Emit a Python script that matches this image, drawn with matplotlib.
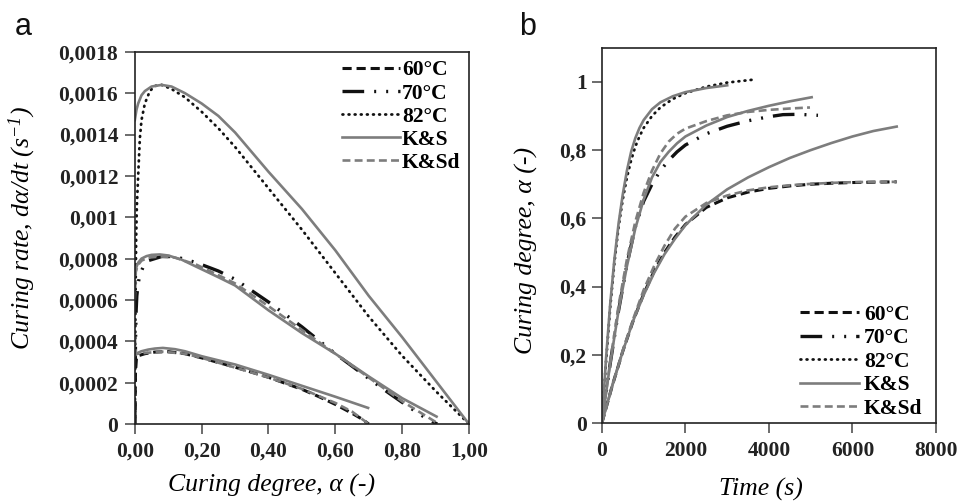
import matplotlib
matplotlib.use("Agg")
import matplotlib.pyplot as plt
from matplotlib.ticker import FixedLocator, FixedFormatter

# ---------------- data: panel a (curing rate vs curing degree) ----------------
a60_exp_x = [0, 0.002, 0.005, 0.01, 0.03, 0.06, 0.10, 0.15, 0.2, 0.3, 0.4, 0.5, 0.55, 0.6, 0.65, 0.68, 0.70]
a60_exp_y = [0, 0.00025, 0.00032, 0.00033, 0.00034, 0.000348, 0.00035, 0.00034, 0.00032, 0.000275, 0.000226, 0.000168, 0.000133, 0.000095, 0.000052, 0.000024, 0.0]
a60_ks_x = [0, 0.005, 0.01, 0.02, 0.04, 0.06, 0.084, 0.12, 0.15, 0.2, 0.3, 0.4, 0.5, 0.6, 0.698]
a60_ks_y = [0.00033, 0.000338, 0.000345, 0.000352, 0.00036, 0.000365, 0.000368, 0.000362, 0.000352, 0.000328, 0.000288, 0.000238, 0.000185, 0.000132, 0.000078]
a60_ksd_x = [0, 0.003, 0.01, 0.04, 0.08, 0.15, 0.2, 0.3, 0.4, 0.5, 0.6, 0.65, 0.70]
a60_ksd_y = [0.00042, 0.00034, 0.00034, 0.000345, 0.00035, 0.00034, 0.00032, 0.000273, 0.000225, 0.00017, 0.000102, 0.00006, 0.0]

a70_exp_x = [0, 0.002, 0.004, 0.006, 0.01, 0.015, 0.025, 0.04, 0.06, 0.08, 0.12, 0.185, 0.25, 0.3, 0.4, 0.5, 0.6, 0.7, 0.76, 0.8, 0.85, 0.88, 0.905]
a70_exp_y = [0, 0.0004, 0.00055, 0.00062, 0.00068, 0.00072, 0.00076, 0.00079, 0.0008, 0.00081, 0.00081, 0.00078, 0.00074, 0.0007, 0.00059, 0.00047, 0.00034, 0.00022, 0.00015, 0.000105, 0.00005, 0.00002, 0.0]
a70_ks_x = [0, 0.005, 0.01, 0.02, 0.035, 0.05, 0.075, 0.1, 0.14, 0.185, 0.25, 0.3, 0.4, 0.5, 0.6, 0.7, 0.8, 0.903]
a70_ks_y = [0.00072, 0.00076, 0.00078, 0.0008, 0.000812, 0.000818, 0.00082, 0.000815, 0.000795, 0.00076, 0.00071, 0.00067, 0.00055, 0.00044, 0.00034, 0.00023, 0.000125, 0.000036]
a70_ksd_x = [0, 0.003, 0.01, 0.02, 0.04, 0.08, 0.12, 0.185, 0.25, 0.3, 0.4, 0.5, 0.6, 0.7, 0.8, 0.85, 0.91]
a70_ksd_y = [0.0006, 0.00074, 0.00077, 0.00079, 0.000805, 0.00081, 0.000805, 0.00077, 0.00072, 0.00068, 0.00057, 0.000455, 0.00034, 0.000225, 0.00011, 0.00006, 0.0]

a82_exp_x = [0, 0.001, 0.002, 0.004, 0.006, 0.01, 0.015, 0.02, 0.03, 0.045, 0.06, 0.08, 0.11, 0.15, 0.2, 0.25, 0.3, 0.4, 0.5, 0.6, 0.7, 0.8, 0.9, 1.0]
a82_exp_y = [0, 0.0003, 0.0006, 0.0009, 0.00105, 0.0012, 0.00138, 0.00147, 0.00155, 0.00161, 0.001635, 0.00164, 0.00162, 0.00158, 0.00151, 0.00143, 0.00134, 0.00114, 0.00094, 0.00073, 0.00052, 0.00033, 0.00016, 0.0]
a82_ks_x = [0, 0.005, 0.01, 0.02, 0.03, 0.05, 0.08, 0.11, 0.15, 0.2, 0.25, 0.3, 0.4, 0.5, 0.6, 0.7, 0.8, 0.9, 1.0]
a82_ks_y = [0.00147, 0.00152, 0.00155, 0.00159, 0.00161, 0.001632, 0.00164, 0.001632, 0.0016, 0.00155, 0.00149, 0.00141, 0.00122, 0.00104, 0.00084, 0.00062, 0.00042, 0.00021, 0.0]

# ---------------- data: panel b (curing degree vs time) ----------------
t82_exp = [0, 100, 200, 300, 400, 500, 600, 700, 800, 900, 1000, 1200, 1400, 1700, 2000, 2500, 3000, 3585]
b82_exp = [0, 0.18, 0.34, 0.47, 0.575, 0.655, 0.72, 0.77, 0.81, 0.84, 0.865, 0.90, 0.925, 0.95, 0.967, 0.986, 0.998, 1.006]
t82_ks = [0, 100, 200, 300, 400, 500, 600, 700, 800, 900, 1000, 1200, 1400, 1700, 2000, 2500, 3000]
b82_ks = [0, 0.19, 0.35, 0.48, 0.585, 0.67, 0.74, 0.795, 0.835, 0.865, 0.888, 0.92, 0.94, 0.958, 0.97, 0.982, 0.99]

t70_exp = [0, 200, 400, 600, 800, 1000, 1200, 1400, 1600, 1800, 2000, 2500, 3000, 3500, 4000, 4335, 4700, 5174]
b70_exp = [0, 0.175, 0.33, 0.465, 0.575, 0.65, 0.70, 0.74, 0.77, 0.795, 0.815, 0.848, 0.87, 0.886, 0.898, 0.904, 0.905, 0.902]
t70_ks = [0, 200, 400, 600, 800, 1000, 1200, 1400, 1600, 1800, 2000, 2500, 3000, 3500, 4000, 4500, 5022]
b70_ks = [0, 0.175, 0.33, 0.46, 0.57, 0.655, 0.72, 0.765, 0.795, 0.82, 0.84, 0.872, 0.897, 0.915, 0.93, 0.943, 0.955]
t70_ksd = [0, 200, 400, 600, 800, 1000, 1200, 1400, 1600, 1800, 2000, 2500, 3000, 3500, 4000, 4500, 4982]
b70_ksd = [0, 0.18, 0.345, 0.48, 0.59, 0.675, 0.74, 0.79, 0.825, 0.848, 0.863, 0.885, 0.902, 0.912, 0.918, 0.922, 0.925]

t60 = [0, 250, 500, 750, 1000, 1250, 1500, 1750, 2000, 2500, 3000, 3500, 4000, 4500, 5000, 5500, 6000, 6500, 7058]
b60_exp = [0, 0.11, 0.21, 0.30, 0.378, 0.445, 0.50, 0.545, 0.582, 0.632, 0.66, 0.677, 0.688, 0.695, 0.70, 0.703, 0.705, 0.706, 0.707]
b60_ks = [0, 0.11, 0.21, 0.30, 0.375, 0.44, 0.495, 0.54, 0.58, 0.64, 0.685, 0.72, 0.75, 0.777, 0.80, 0.821, 0.84, 0.856, 0.869]
b60_ksd = [0, 0.11, 0.213, 0.305, 0.39, 0.46, 0.52, 0.57, 0.605, 0.645, 0.667, 0.682, 0.691, 0.697, 0.701, 0.704, 0.706, 0.707, 0.707]

labels = ["60°C", "70°C", "82°C", "K&S", "K&Sd"]

a_xticks = [0, 0.2, 0.4, 0.6, 0.8, 1.0]
a_xticklabels = ["0,00", "0,20", "0,40", "0,60", "0,80", "1,00"]
a_yticks = [0, 0.0002, 0.0004, 0.0006, 0.0008, 0.001, 0.0012, 0.0014, 0.0016, 0.0018]
a_yticklabels = ["0", "0,0002", "0,0004", "0,0006", "0,0008", "0,001", "0,0012", "0,0014", "0,0016", "0,0018"]
b_xticks = [0, 2000, 4000, 6000, 8000]
b_xticklabels = ["0", "2000", "4000", "6000", "8000"]
b_yticks = [0, 0.2, 0.4, 0.6, 0.8, 1.0]
b_yticklabels = ["0", "0,2", "0,4", "0,6", "0,8", "1"]

# ---------------- style ----------------
plt.rcParams['font.family'] = ['Liberation Serif', 'DejaVu Serif']
plt.rcParams['mathtext.fontset'] = 'custom'
plt.rcParams['mathtext.rm'] = 'Liberation Serif:italic'
plt.rcParams['mathtext.it'] = 'Liberation Serif:italic'

GRAY = '#7d7d7d'
BLACK = '#111111'
st60 = dict(color=BLACK, lw=2.2, dashes=(3.0, 1.6))
st70 = dict(color=BLACK, lw=2.4, dashes=(6.5, 3.0, 0.6, 3.0, 0.6, 3.0))
st82 = dict(color=BLACK, lw=2.0, dashes=(0.3, 1.9), dash_capstyle='round')
stks = dict(color=GRAY, lw=1.9, linestyle='-')
stksd = dict(color=GRAY, lw=1.9, dashes=(3.0, 1.6))

fig = plt.figure(figsize=(9.63, 5.03), dpi=100)
axa = fig.add_axes([0.140, 0.157, 0.347, 0.740])
axb = fig.add_axes([0.625, 0.159, 0.347, 0.746])

# panel a
axa.plot(a60_exp_x, a60_exp_y, **st60, label=labels[0])
axa.plot(a70_exp_x, a70_exp_y, **st70, label=labels[1])
axa.plot(a82_exp_x, a82_exp_y, **st82, label=labels[2])
axa.plot(a60_ks_x, a60_ks_y, **stks, label=labels[3])
axa.plot(a60_ksd_x, a60_ksd_y, **stksd, label=labels[4])
axa.plot(a70_ks_x, a70_ks_y, **stks)
axa.plot(a70_ksd_x, a70_ksd_y, **stksd)
axa.plot(a82_ks_x, a82_ks_y, **stks)

# panel b
axb.plot(t60, b60_exp, **st60, label=labels[0])
axb.plot(t70_exp, b70_exp, **st70, label=labels[1])
axb.plot(t82_exp, b82_exp, **st82, label=labels[2])
axb.plot(t60, b60_ks, **stks, label=labels[3])
axb.plot(t60, b60_ksd, **stksd, label=labels[4])
axb.plot(t70_ks, b70_ks, **stks)
axb.plot(t70_ksd, b70_ksd, **stksd)
axb.plot(t82_ks, b82_ks, **stks)

tickfont = dict(family='Liberation Serif', size=15.5, weight='bold')

axa.set_xlim(0, 1.0)
axa.set_ylim(0, 0.0018)
axa.xaxis.set_major_locator(FixedLocator(a_xticks))
axa.xaxis.set_major_formatter(FixedFormatter(a_xticklabels))
axa.yaxis.set_major_locator(FixedLocator(a_yticks))
axa.yaxis.set_major_formatter(FixedFormatter(a_yticklabels))

axb.set_xlim(0, 8000)
axb.set_ylim(0, 1.1)
axb.xaxis.set_major_locator(FixedLocator(b_xticks))
axb.xaxis.set_major_formatter(FixedFormatter(b_xticklabels))
axb.yaxis.set_major_locator(FixedLocator(b_yticks))
axb.yaxis.set_major_formatter(FixedFormatter(b_yticklabels))

for ax in (axa, axb):
    for s in ax.spines.values():
        s.set_linewidth(1.2)
        s.set_color('#222222')
    ax.tick_params(direction='out', length=7, width=1.1, color='#444444', pad=6)
    for lab in ax.get_xticklabels() + ax.get_yticklabels():
        lab.set_fontproperties(tickfont)
        lab.set_color('#222222')
axb.tick_params(axis='y', pad=4)
axa.tick_params(axis='y', pad=5)

labfont = dict(family='Liberation Serif', size=18.5, style='italic')
axa.set_xlabel("Curing degree, α (-)", **labfont)
axa.set_ylabel(r"Curing rate, dα/dt (s$^{-1}$)", **labfont)
axb.set_xlabel("Time (s)", **labfont)
axb.set_ylabel("Curing degree, α (-)", **labfont)
axa.xaxis.set_label_coords(0.41, -0.135)
axa.yaxis.set_label_coords(-0.29, 0.527)
axb.xaxis.set_label_coords(0.476, -0.145)
axb.yaxis.set_label_coords(-0.19, 0.459)

legfont = dict(family='Liberation Serif', size=15.5, weight='bold')
axa.legend(loc='upper right', frameon=False, prop=legfont, handlelength=2.7,
           labelspacing=0.14, handletextpad=0.1, borderaxespad=0.0, bbox_to_anchor=(1.0, 1.0))
axb.legend(loc='lower right', frameon=False, prop=legfont, handlelength=2.7,
           labelspacing=0.16, handletextpad=0.25, borderaxespad=0.0, bbox_to_anchor=(0.985, -0.012))

fig.text(0.015, 0.93, "a", family='Liberation Sans', size=22, color='#111111')
fig.text(0.539, 0.93, "b", family='Liberation Sans', size=22, color='#111111')

fig.savefig("out.png", dpi=100, facecolor='white')
